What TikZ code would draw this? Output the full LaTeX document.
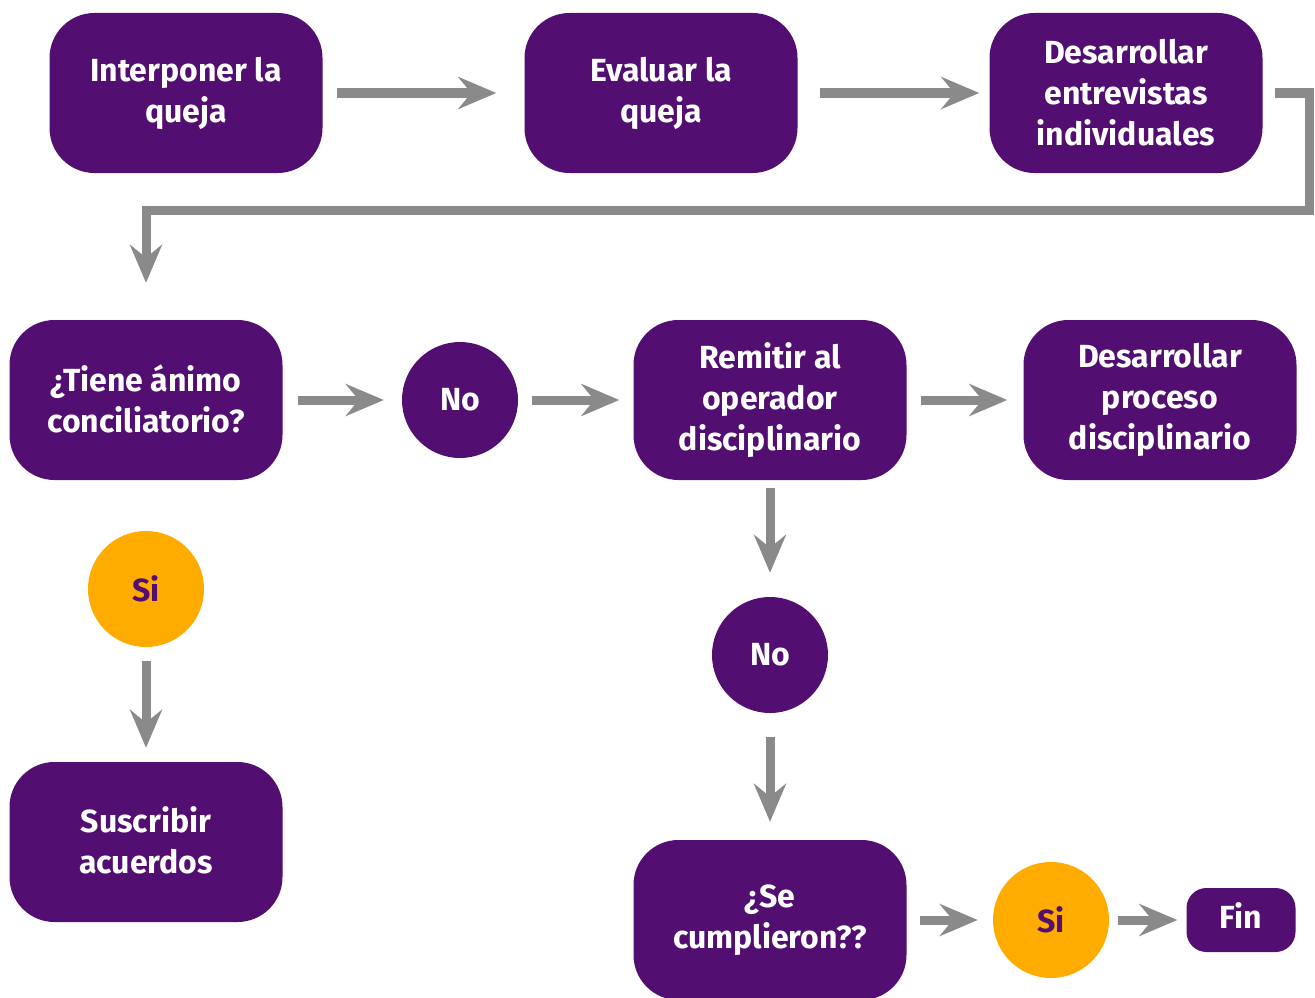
\documentclass[tikz,border=0pt]{standalone}
\usepackage{fontspec}
\setmainfont{Fira Sans}
\usetikzlibrary{arrows.meta}
\usetikzlibrary{backgrounds}
\definecolor{queja purple}{HTML}{520E70}
\definecolor{queja orange}{HTML}{FFAB00}
\definecolor{queja grey}{HTML}{8A8A8A}
\tikzset{
  step node/.style={
    fill=queja purple, text=white, rounded corners=45pt, align=center,
    minimum width=273pt, minimum height=160pt, inner sep=0pt,
    font=\fontsize{32}{41}\selectfont\bfseries
  },
  no node/.style={
    circle, fill=queja purple, text=white, minimum size=116pt, inner sep=0pt,
    font=\fontsize{32}{41}\selectfont\bfseries
  },
  si node/.style={
    no node, fill=queja orange, text=queja purple
  },
  flow arrow/.style={
    draw=queja grey, line width=9pt, shorten <=14pt, shorten >=14pt,
    -{Stealth[length=38pt,width=32pt,inset=13pt]}
  }
}

\begin{document}
\begin{tikzpicture}[x=1pt, y=-1pt]
    \useasboundingbox (0,0) rectangle (1315,998);
    \draw (186,93) node[step node] (interponer) {Interponer la\\queja};
    \draw (661,93) node[step node] (evaluar) {Evaluar la\\queja};
    \draw (1126,93) node[step node] (entrevistas) {Desarrollar\\entrevistas\\individuales};
    \draw (146,400) node[step node] (animo) {\raisebox{3pt}{¿Tiene ánimo}\\\raisebox{3pt}{conciliatorio?}};
    \draw (460,400) node[no node] (no1) {No};
    \draw (770,400) node[step node] (remitir) {\raisebox{3pt}{Remitir al}\\\raisebox{3pt}{operador}\\\raisebox{3pt}{disciplinario}};
    \draw (1160,400) node[step node] (proceso) {\raisebox{3pt}{Desarrollar}\\\raisebox{3pt}{proceso}\\\raisebox{3pt}{disciplinario}};
    \draw (146,589) node[si node] (si1) {Si};
    \draw (146,842) node[step node] (suscribir) {\raisebox{3pt}{Suscribir}\\\raisebox{3pt}{acuerdos}};
    \draw (770,655) node[no node] (no2) {No};
    \draw (770,920) node[step node] (cumplieron) {¿Se\\cumplieron??};
    \draw (1051,920) node[si node] (si2) {Si};
    \draw (1241,920) node[step node, minimum width=109pt, minimum height=64pt,
        rounded corners=20pt] (fin) {\raisebox{8pt}{Fin}};
    \coordinate (vuelta) at (1309,210);
    \draw[flow arrow, shorten >=28pt] (interponer) -- (evaluar);
    \draw[flow arrow, shorten <=22pt, shorten >=10pt] (evaluar) -- (entrevistas);
    \draw[flow arrow, shorten <=12pt, shorten >=37pt, line join=miter] (entrevistas.east) -| (vuelta) -| (animo.north);
    \draw[flow arrow, shorten <=15pt, shorten >=18pt] (animo) -- (no1);
    \draw[flow arrow] (no1) -- (remitir);
    \draw[flow arrow, shorten >=16pt] (remitir) -- (proceso);
    \draw[flow arrow, shorten <=8pt, shorten >=24pt] (remitir) -- (no2);
    \draw[flow arrow, shorten <=24pt, shorten >=18pt] (no2) -- (cumplieron);
    \draw[flow arrow, shorten >=14pt] (si1) -- (suscribir);
    \draw[flow arrow, shorten <=13pt, shorten >=15pt] (cumplieron) -- (si2);
    \draw[flow arrow, shorten <=9pt, shorten >=9pt] (si2) -- (fin);
\end{tikzpicture}
\end{document}
